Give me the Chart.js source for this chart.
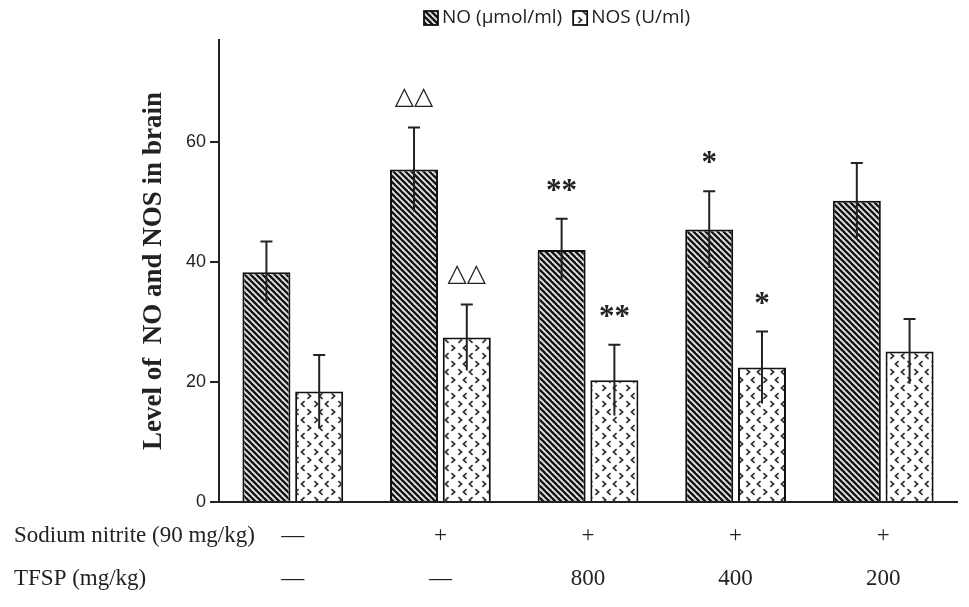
<!DOCTYPE html>
<html>
<head>
<meta charset="utf-8">
<script src="https://cdn.jsdelivr.net/npm/chart.js@4/dist/chart.umd.min.js"></script>
<style>
  html, body { margin: 0; padding: 0; background: #fff; }
  #wrap { width: 969px; height: 607px; }
</style>
</head>
<body>
<div id="wrap"><canvas id="myChart" width="969" height="607"></canvas></div>
<script>
// data
var sodiumRow = ['\u2014', '+', '+', '+', '+'];
var tfspRow = ['\u2014', '\u2014', '800', '400', '200'];
var rowTitles = ['Sodium nitrite (90 mg/kg)', 'TFSP (mg/kg)'];

var noValues = [38.3, 55.4, 42.0, 45.4, 50.2];
var noErrors = [5.1, 7.0, 5.2, 6.4, 6.3];
var noMarks = ['', '\u25B3\u25B3', '**', '*', ''];

var nosValues = [18.4, 27.4, 20.3, 22.4, 25.1];
var nosErrors = [6.1, 5.5, 5.9, 6.0, 5.4];
var nosMarks = ['', '\u25B3\u25B3', '**', '*', ''];

var yTicks = [0, 20, 40, 60];
var yMax = 77;

var categories = sodiumRow.map(function (s, i) { return [s, tfspRow[i]]; });

// fill patterns
function hatchPattern() {
  var c = document.createElement('canvas');
  c.width = 6; c.height = 6;
  var g = c.getContext('2d');
  g.fillStyle = '#e6e6e6';
  g.fillRect(0, 0, 6, 6);
  g.strokeStyle = '#151515';
  g.lineWidth = 2.4;
  for (var k = -6; k <= 6; k += 6) {
    g.beginPath();
    g.moveTo(k - 1, -1);
    g.lineTo(k + 7, 7);
    g.stroke();
  }
  return g.createPattern(c, 'repeat');
}

function chev(g, x, y, dir) {
  // dir 1 = ">", -1 = "<"
  g.beginPath();
  g.moveTo(x - 1.6 * dir, y - 2.8);
  g.lineTo(x + 1.6 * dir, y);
  g.lineTo(x - 1.6 * dir, y + 2.8);
  g.stroke();
}

function chevronPattern() {
  var c = document.createElement('canvas');
  c.width = 24; c.height = 16;
  var g = c.getContext('2d');
  g.fillStyle = '#ffffff';
  g.fillRect(0, 0, 24, 16);
  g.strokeStyle = '#333';
  g.lineWidth = 1.7;
  chev(g, 4, 4, 1);
  chev(g, 15, 4, -1);
  chev(g, 9, 12, -1);
  chev(g, 21, 12, 1);
  return g.createPattern(c, 'repeat');
}

var noFill = hatchPattern();
var nosFill = chevronPattern();

var errorSets = [noErrors, nosErrors];
var markSets = [noMarks, nosMarks];

// error bars and significance marks
var errorBars = {
  id: 'errorBars',
  afterDatasetsDraw: function (chart) {
    var ctx = chart.ctx;
    var y = chart.scales.y;
    chart.data.datasets.forEach(function (ds, di) {
      var meta = chart.getDatasetMeta(di);
      meta.data.forEach(function (bar, i) {
        var v = ds.data[i];
        var e = errorSets[di][i];
        var top = y.getPixelForValue(v + e);
        var bot = y.getPixelForValue(v - e);
        ctx.save();
        ctx.strokeStyle = '#222';
        ctx.lineWidth = 2;
        ctx.beginPath();
        ctx.moveTo(bar.x, bot);
        ctx.lineTo(bar.x, top);
        ctx.moveTo(bar.x - 6, top);
        ctx.lineTo(bar.x + 6, top);
        ctx.stroke();
        var m = markSets[di][i];
        if (m) {
          ctx.fillStyle = '#222';
          ctx.textAlign = 'center';
          ctx.textBaseline = 'alphabetic';
          if (m.charAt(0) === '*') {
            ctx.font = 'bold 31px "Liberation Serif"';
            ctx.fillText(m, bar.x, top - 19);
          } else {
            ctx.font = '25px "DejaVu Sans"';
            ctx.fillText(m, bar.x, top - 24);
          }
        }
        ctx.restore();
      });
    });
  }
};

// legend at the top and the row titles under the axis
var extras = {
  id: 'extras',
  afterDraw: function (chart) {
    var ctx = chart.ctx;
    ctx.save();
    ctx.font = '19px "Open Sans"';
    ctx.textBaseline = 'middle';
    ctx.textAlign = 'left';
    var items = chart.data.datasets;
    var box = 14, gap = 4, sep = 11;
    var total = 0;
    items.forEach(function (ds, i) {
      total += box + gap + ctx.measureText(ds.label).width + (i ? sep : 0);
    });
    var x = 557 - total / 2;
    var ly = 18;
    items.forEach(function (ds, i) {
      if (i) x += sep;
      ctx.fillStyle = ds.backgroundColor;
      ctx.fillRect(x, ly - box / 2, box, box);
      ctx.strokeStyle = '#111';
      ctx.lineWidth = 1.8;
      ctx.strokeRect(x, ly - box / 2, box, box);
      x += box + gap;
      ctx.fillStyle = '#222';
      ctx.fillText(ds.label, x, ly);
      x += ctx.measureText(ds.label).width;
    });

    var xs = chart.scales.x;
    var lh = 43, pad = 12;
    ctx.font = '23px "Liberation Serif"';
    ctx.fillStyle = '#222';
    rowTitles.forEach(function (t, r) {
      ctx.fillText(t, 14, xs.top + pad + lh * (r + 0.5));
    });
    ctx.restore();
  }
};

var chart = new Chart(document.getElementById('myChart'), {
  type: 'bar',
  data: {
    labels: categories,
    datasets: [
      {
        label: 'NO (\u03BCmol/ml)',
        data: noValues,
        backgroundColor: noFill,
        borderColor: '#111',
        borderWidth: 2
      },
      {
        label: 'NOS (U/ml)',
        data: nosValues,
        backgroundColor: nosFill,
        borderColor: '#111',
        borderWidth: 2
      }
    ]
  },
  options: {
    responsive: false,
    animation: false,
    devicePixelRatio: 1,
    categoryPercentage: 0.715,
    barPercentage: 0.91,
    layout: { padding: { top: 40, right: 12, left: 0, bottom: 0 } },
    plugins: {
      legend: { display: false },
      tooltip: { enabled: false }
    },
    scales: {
      x: {
        grid: { display: false, drawTicks: false },
        border: { color: '#222', width: 2 },
        ticks: {
          color: '#222',
          padding: 12,
          maxRotation: 0,
          autoSkip: false,
          font: { family: 'Liberation Serif', size: 23, lineHeight: '43px' }
        },
        afterFit: function (s) { s.height = 105; }
      },
      y: {
        min: 0,
        max: yMax,
        grid: { drawOnChartArea: false, drawTicks: true, tickLength: 9, color: '#222', lineWidth: 2 },
        border: { color: '#222', width: 2 },
        ticks: {
          color: '#222',
          padding: 4,
          font: { family: 'Liberation Sans', size: 18 }
        },
        afterBuildTicks: function (s) {
          s.ticks = yTicks.map(function (v) { return { value: v }; });
        },
        title: {
          display: true,
          text: 'Level of  NO and NOS in brain',
          color: '#222',
          font: { family: 'Liberation Serif', size: 27, weight: 'bold', lineHeight: 1.2 },
          padding: { top: 138, bottom: 0 }
        },
        afterFit: function (s) { s.width = 219; }
      }
    }
  },
  plugins: [errorBars, extras]
});
</script>
</body>
</html>
